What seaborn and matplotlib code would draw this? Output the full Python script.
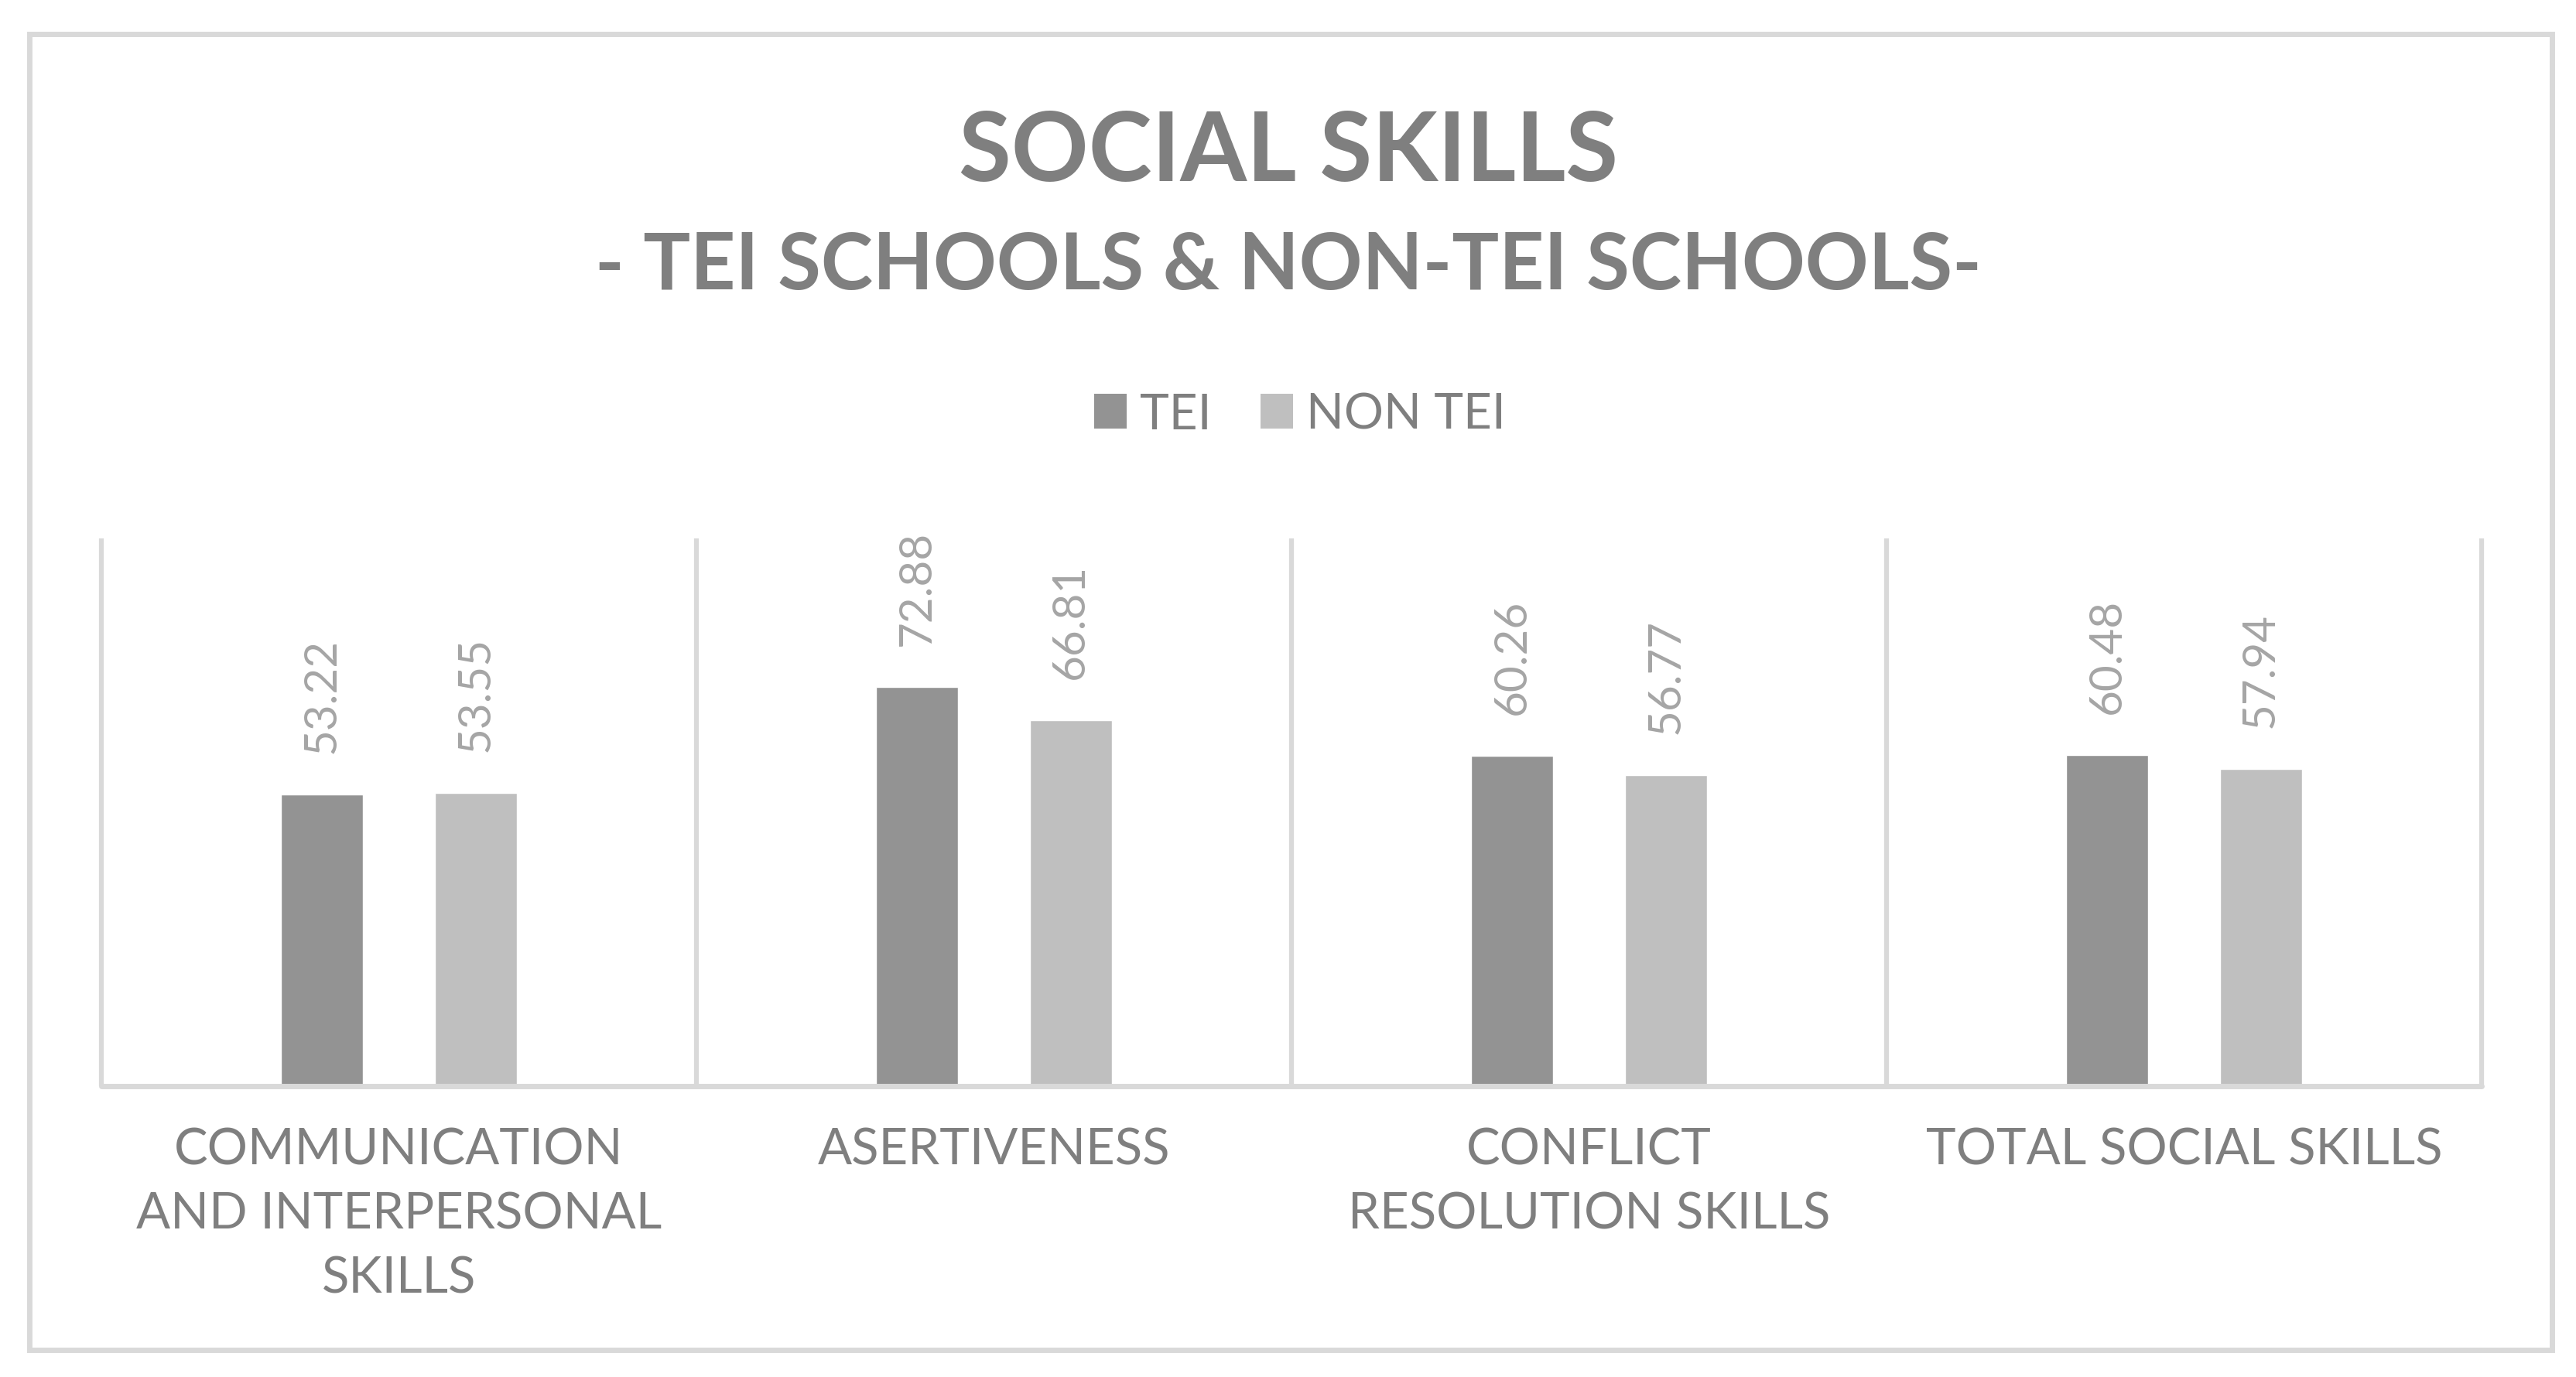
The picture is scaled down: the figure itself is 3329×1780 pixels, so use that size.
import numpy as np
import pandas as pd
import matplotlib
matplotlib.use("Agg")
import matplotlib.pyplot as plt
import seaborn as sns
from matplotlib.patches import Rectangle, Patch

# ===================== DATA =====================
categories = [
    "COMMUNICATION\nAND INTERPERSONAL\nSKILLS",
    "ASERTIVENESS",
    "CONFLICT\nRESOLUTION SKILLS",
    "TOTAL SOCIAL SKILLS",
]
groups  = ["TEI", "NON TEI"]
tei     = [53.22, 72.88, 60.26, 60.48]
non_tei = [53.55, 66.81, 56.77, 57.94]
colors  = ["#939393", "#bfbfbf"]

df = pd.DataFrame({
    "category": categories * 2,
    "group":    [groups[0]] * len(tei) + [groups[1]] * len(non_tei),
    "value":    tei + non_tei,
})

TXT   = "#7f7f7f"
LBL   = "#a5a5a5"
GRID  = "#d9d9d9"

sns.set_theme(style="white")
plt.rcParams["font.family"] = ["Lato", "DejaVu Sans"]

fig = plt.figure(figsize=(33.3, 17.81), dpi=100)
ax = fig.add_axes([0.0393, 0.2111, 0.9237, 0.3975])

sns.barplot(data=df, x="category", y="value", hue="group",
            hue_order=groups, palette=colors, width=0.517, gap=0.467,
            saturation=1, errorbar=None, legend=False, ax=ax)

for cont in ax.containers:
    ax.bar_label(cont, fmt="%.2f", rotation=90, padding=39,
                 color=LBL, fontsize=42)

# category separators + baseline
ax.vlines([-0.5, 0.5, 1.5, 2.5, 3.5], 0, 100, color=GRID, lw=4.5,
          clip_on=False, zorder=0)
ax.axhline(0, color=GRID, lw=5, clip_on=False, zorder=3)

ax.set_xlim(-0.5, 3.5)
ax.set_ylim(0, 100)
ax.set_yticks([])
ax.set_xlabel("")
ax.set_ylabel("")
for s in ax.spines.values():
    s.set_visible(False)
ax.tick_params(axis="x", length=0, pad=38, labelsize=47, labelcolor=TXT)
for t in ax.get_xticklabels():
    t.set_linespacing(1.5)

# ===================== TITLES =====================
fig.text(0.5, 1 - 234 / 1781, "SOCIAL SKILLS", ha="center", va="baseline",
         fontsize=89, fontweight="bold", color=TXT)
fig.text(0.5, 1 - 374 / 1781, "- TEI SCHOOLS & NON-TEI SCHOOLS-",
         ha="center", va="baseline", fontsize=73, fontweight="bold", color=TXT)

handles = [Patch(facecolor=c, edgecolor="none", label=g) for c, g in zip(colors, groups)]
fig.legend(handles=handles, loc="center", bbox_to_anchor=(0.5045, 1 - 537 / 1781),
           ncol=2, frameon=False, fontsize=46, handlelength=0.65, handleheight=0.7,
           handletextpad=0.27, columnspacing=1.0, labelcolor=TXT)

# outer chart border
fig.patches.append(Rectangle((38.5 / 3330, 1 - 1746 / 1781),
                             (3298.5 - 38.5) / 3330, (1746 - 45) / 1781,
                             transform=fig.transFigure, fill=False,
                             edgecolor=GRID, lw=5))

plt.savefig("out.png", dpi=100)
plt.close()
